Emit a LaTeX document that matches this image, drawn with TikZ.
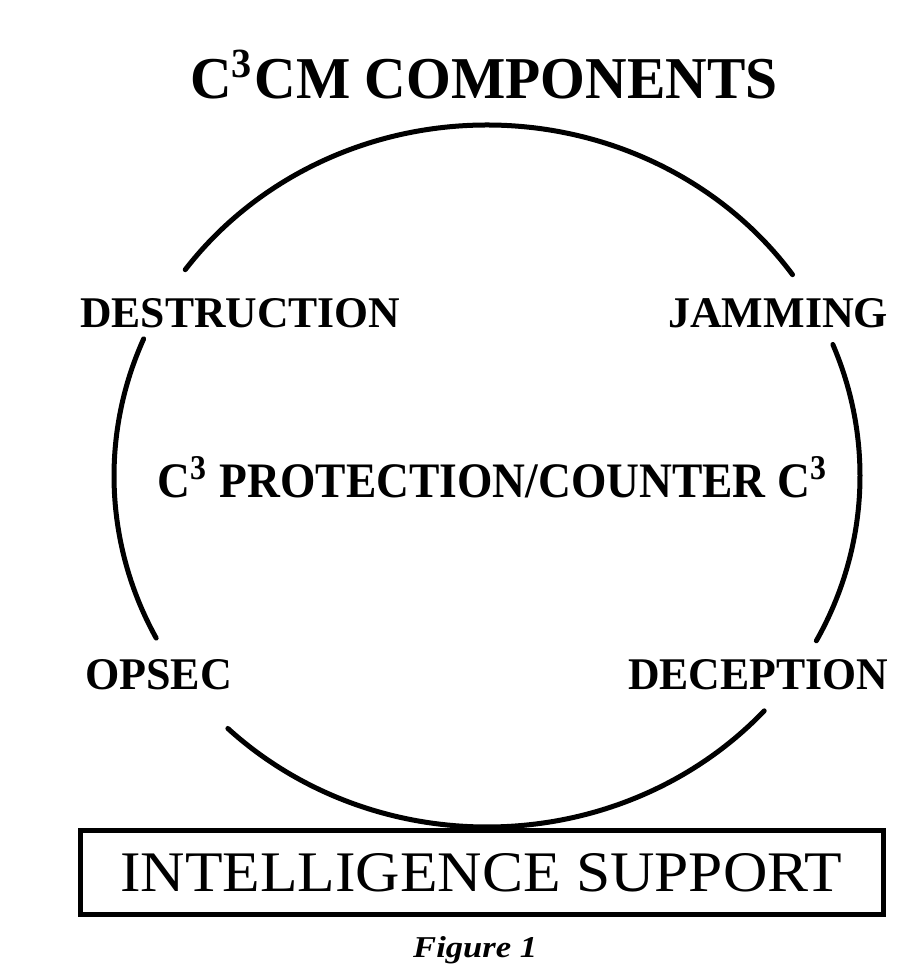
\documentclass[tikz,border=0pt]{standalone}
\usepackage{fontspec}
\setmainfont{Liberation Serif}
\usepackage{graphicx}
\begin{document}
\begin{tikzpicture}[x=1pt,y=1pt,
  lbl/.style={inner sep=0pt, anchor=base west},
  ring/.style={line width=5pt, line cap=round},
  frame/.style={line width=5pt}]
\useasboundingbox (0,0) rectangle (911,975);
\fill[white] (0,0) rectangle (911,975);
\coordinate (c) at (487,499);
% circle arcs
\draw[ring] (c) ++(35:373 and 351) arc[start angle=35,end angle=144,x radius=373,y radius=351];
\draw[ring] (c) ++(157:373 and 351) arc[start angle=157,end angle=207.5,x radius=373,y radius=351];
\draw[ring] (c) ++(226:373 and 351) arc[start angle=226,end angle=318,x radius=373,y radius=351];
\draw[ring] (c) ++(-28:373 and 351) arc[start angle=-28,end angle=22,x radius=373,y radius=351];
% title
\node[lbl] (title) at (190,876) {\resizebox{587pt}{49pt}{\bfseries C\textsuperscript{3}CM COMPONENTS}};
% labels
\node[lbl] (destr) at (80,647) {\resizebox{320pt}{29pt}{\bfseries DESTRUCTION}};
\node[lbl] (jam) at (668,647) {\resizebox{220pt}{29pt}{\bfseries JAMMING}};
\node[lbl] (prot) at (157,477) {\resizebox{671pt}{41pt}{\bfseries C\textsuperscript{3} PROTECTION/COUNTER C\textsuperscript{3}}};
\node[lbl] (opsec) at (85,285) {\resizebox{147pt}{30pt}{\bfseries OPSEC}};
\node[lbl] (decep) at (628,285) {\resizebox{260pt}{30pt}{\bfseries DECEPTION}};
% intelligence support box
\draw[frame] (80,144) rectangle (883,60);
\node[lbl] (intel) at (120,83) {\resizebox{722pt}{38pt}{INTELLIGENCE SUPPORT}};
% caption
\node[lbl] (fig) at (413,17) {\resizebox{124pt}{21pt}{\bfseries\itshape Figure 1}};
\end{tikzpicture}
\end{document}
